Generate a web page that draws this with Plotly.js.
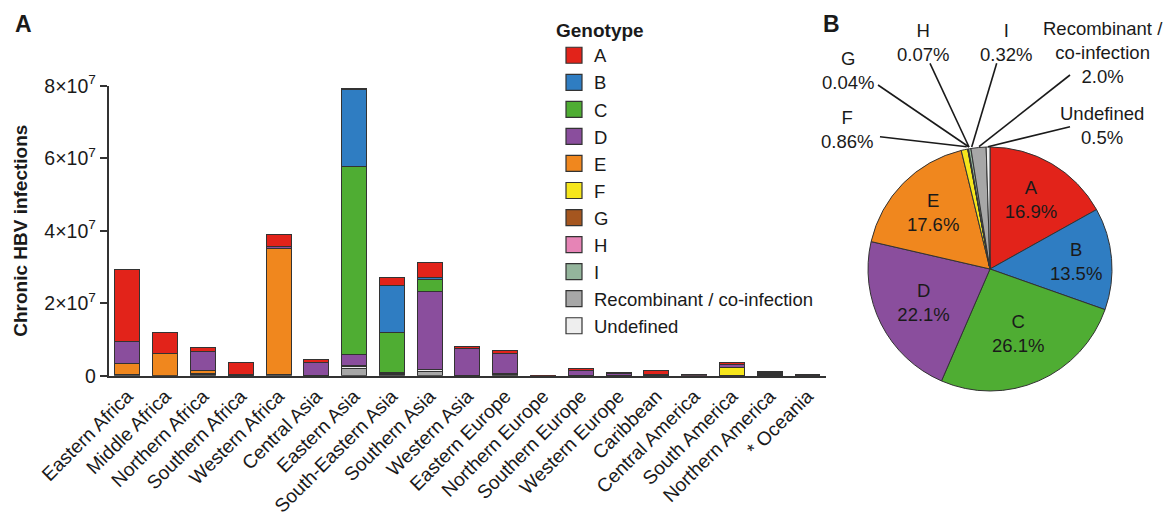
<!DOCTYPE html>
<html>
<head>
<meta charset="utf-8">
<script src="https://cdn.plot.ly/plotly-3.0.1.min.js"></script>
<style>html,body{margin:0;padding:0;background:#fff;}#chart{width:1171px;height:513px;}</style>
</head>
<body>
<div id="chart"></div>
<script>
// ---------- DATA ----------
const regions = ["Eastern Africa","Middle Africa","Northern Africa","Southern Africa","Western Africa","Central Asia","Eastern Asia","South-Eastern Asia","Southern Asia","Western Asia","Eastern Europe","Northern Europe","Southern Europe","Western Europe","Caribbean","Central America","South America","Northern America","* Oceania"];

// chronic infections, millions
const genoA   = [19.8, 5.7, 0.85, 3.4, 3.2, 0.65, 0.3, 2.3, 4.05, 0.7, 0.9, 0.05, 0.5, 0.2, 1.2, 0.1, 0.75, 0.25, 0.1];
const genoB   = [0.05, 0, 0, 0, 0, 0, 21.35, 12.7, 0.55, 0, 0, 0, 0, 0, 0, 0, 0, 0.2, 0.1];
const genoC   = [0.1, 0, 0, 0, 0, 0, 51.9, 11.3, 3.4, 0, 0, 0, 0, 0, 0, 0, 0, 0.2, 0.1];
const genoD   = [6.0, 0.2, 5.5, 0.1, 0.55, 3.6, 2.76, 0.1, 21.4, 7.3, 5.5, 0.05, 1.4, 0.45, 0.2, 0.05, 0.75, 0.25, 0.1];
const genoE   = [3.0, 6.0, 0.7, 0.1, 34.7, 0, 0, 0, 0, 0, 0.1, 0, 0, 0.05, 0.05, 0, 0, 0.05, 0];
const genoF   = [0, 0, 0, 0, 0, 0, 0, 0, 0, 0, 0, 0, 0, 0, 0, 0.1, 2.1, 0.05, 0];
const genoG   = [0.03, 0, 0, 0, 0.03, 0, 0, 0, 0, 0, 0, 0, 0, 0, 0, 0, 0.02, 0.02, 0];
const genoH   = [0, 0, 0, 0, 0, 0, 0, 0, 0, 0, 0, 0, 0, 0, 0, 0.15, 0.01, 0.02, 0];
const genoI   = [0, 0, 0, 0, 0, 0, 0.55, 0.25, 0, 0, 0, 0, 0, 0, 0, 0, 0, 0, 0];
const genoRec = [0.2, 0, 0.4, 0.1, 0.3, 0.05, 1.85, 0.3, 1.1, 0.05, 0.4, 0, 0.1, 0.05, 0.1, 0.05, 0.05, 0.05, 0.05];
const genoUnd = [0.1, 0.05, 0.2, 0, 0.1, 0.05, 0.55, 0.1, 0.7, 0.05, 0.05, 0, 0.05, 0.05, 0, 0, 0.05, 0, 0];

const genotypeNames = ["A","B","C","D","E","F","G","H","I","Recombinant / co-infection","Undefined"];
const genotypeColors = ["#e2231a","#2f7dc2","#4fad33","#8a4e9d","#f0871e","#f6e61c","#a5561f","#e684b6","#94b59c","#a7a7a7","#eeeeee"];

// pie: share of all chronic infections, %
const pieLabels = ["A","B","C","D","E","F","G","H","I","Recombinant / co-infection","Undefined"];
const pieValues = [16.9, 13.5, 26.1, 22.1, 17.6, 0.86, 0.04, 0.07, 0.32, 2.0, 0.5];
const pieText   = ["16.9%","13.5%","26.1%","22.1%","17.6%","0.86%","0.04%","0.07%","0.32%","2.0%","0.5%"];
const yTickVals = [0, 2e7, 4e7, 6e7, 8e7];
const yTickText = ["0","2×10<sup>7</sup>","4×10<sup>7</sup>","6×10<sup>7</sup>","8×10<sup>7</sup>"];

// ---------- BUILD ----------
const W = 1171, H = 513;
const X = px => px / W;
const Y = py => 1 - py / H;
const FONT = "Liberation Sans, Arial, Helvetica, sans-serif";
const INK = "#1a1a1a";

const series = [genoA, genoB, genoC, genoD, genoE, genoF, genoG, genoH, genoI, genoRec, genoUnd];
// stack order bottom -> top
const stackOrder = [9, 10, 8, 7, 6, 5, 4, 3, 2, 1, 0];

const traces = [];
stackOrder.forEach(i => {
  traces.push({
    type: "bar",
    x: regions,
    y: series[i].map(v => v * 1e6),
    name: genotypeNames[i],
    legendgroup: "g" + i,
    showlegend: false,
    marker: { color: genotypeColors[i], line: { color: "#333", width: 1 } },
    hovertemplate: "%{x}<br>" + genotypeNames[i] + ": %{y:.3s}<extra></extra>"
  });
});
// legend entries (square swatches)
genotypeNames.forEach((n, i) => {
  traces.push({
    type: "scatter", mode: "markers", x: [null], y: [null],
    name: n, legendgroup: "g" + i, showlegend: true, hoverinfo: "skip",
    marker: { symbol: "square", size: 16, color: genotypeColors[i], line: { color: "#333", width: 1.2 } }
  });
});

const bigSlices = 5;
traces.push({
  type: "pie",
  labels: pieLabels,
  values: pieValues,
  text: pieLabels.map((l, i) => l + "<br>" + pieText[i]),
  textinfo: "text",
  textposition: pieLabels.map((l, i) => i < bigSlices ? "inside" : "none"),
  insidetextorientation: "horizontal",
  insidetextfont: { family: FONT, size: 18.5, color: INK },
  sort: false,
  direction: "clockwise",
  rotation: 0,
  marker: { colors: genotypeColors, line: { color: "#333", width: 1 } },
  domain: { x: [X(868), X(1112)], y: [Y(391), Y(147)] },
  showlegend: false,
  hovertemplate: "%{label}: %{value}%<extra></extra>"
});

// pie outside labels + leader lines
const outside = [
  { i: 5, text: "F<br>", cx: 847, cy: 129, line: [880, 136.7, 966.7, 146.7] },
  { i: 6, text: "G<br>", cx: 848, cy: 71, line: [878, 85, 969, 147] },
  { i: 7, text: "H<br>", cx: 922.5, cy: 42, line: [930, 63.3, 969, 147] },
  { i: 8, text: "I<br>", cx: 1005.8, cy: 42, line: [996.7, 63.3, 971.7, 147] },
  { i: 9, text: "Recombinant /<br>co-infection<br>", cx: 1102.5, cy: 52, line: [1070, 75, 979, 146.7] },
  { i: 10, text: "Undefined<br>", cx: 1101.7, cy: 125, line: [1070, 126.7, 988, 146.7] }
];

const annotations = [
  { text: "<b>A</b>", x: X(23.5), y: Y(24), xref: "paper", yref: "paper", xanchor: "center", yanchor: "middle", showarrow: false, font: { family: FONT, size: 23, color: INK } },
  { text: "<b>B</b>", x: X(831.5), y: Y(24), xref: "paper", yref: "paper", xanchor: "center", yanchor: "middle", showarrow: false, font: { family: FONT, size: 23, color: INK } }
];
const shapes = [];
outside.forEach(o => {
  annotations.push({
    text: o.text + pieText[o.i], x: X(o.cx), y: Y(o.cy), xref: "paper", yref: "paper",
    xanchor: "center", yanchor: "middle",
    showarrow: false, align: "center", font: { family: FONT, size: 18.5, color: INK }
  });
  shapes.push({
    type: "line", xref: "paper", yref: "paper",
    x0: X(o.line[0]), y0: Y(o.line[1]), x1: X(o.line[2]), y1: Y(o.line[3]),
    line: { color: INK, width: 1.6 }
  });
});

const layout = {
  width: W, height: H,
  margin: { l: 0, r: 0, t: 0, b: 0, pad: 0 },
  paper_bgcolor: "#fff", plot_bgcolor: "#fff",
  font: { family: FONT, size: 18.5, color: INK },
  barmode: "stack",
  bargap: 0.34,
  showlegend: true,
  xaxis: {
    domain: [X(108.5), X(826.4)],
    type: "category",
    range: [-0.5, 18.5],
    tickangle: -45,
    tickfont: { family: FONT, size: 19.2, color: INK },
    showline: true, linecolor: "#333", linewidth: 1.5,
    ticks: "", showgrid: false, zeroline: false, fixedrange: true
  },
  yaxis: {
    domain: [Y(375.7), Y(85.7)],
    range: [0, 8e7],
    tickvals: yTickVals, ticktext: yTickText,
    tickfont: { family: FONT, size: 19.5, color: INK },
    ticks: "outside", ticklen: 7, tickwidth: 1.5, tickcolor: "#333",
    showline: true, linecolor: "#333", linewidth: 1.5,
    showgrid: false, zeroline: false, fixedrange: true,
    title: { text: "<b>Chronic HBV infections</b>", font: { family: FONT, size: 19, color: INK }, standoff: 12 }
  },
  legend: {
    x: X(554), y: Y(12), xanchor: "left", yanchor: "top",
    traceorder: "normal",
    font: { family: FONT, size: 18.5, color: INK },
    title: { text: "<b>Genotype</b>", font: { family: FONT, size: 19, color: INK } },
    bgcolor: "rgba(0,0,0,0)", borderwidth: 0, tracegroupgap: 0, itemwidth: 30
  },
  annotations: annotations,
  shapes: shapes
};

Plotly.newPlot("chart", traces, layout, { displayModeBar: false, staticPlot: false });
</script>
</body>
</html>
